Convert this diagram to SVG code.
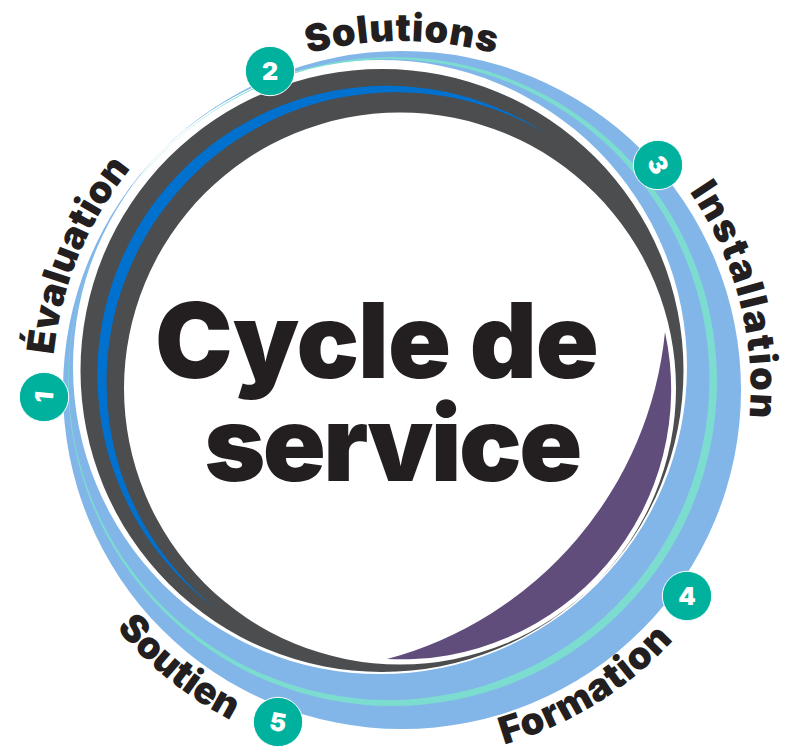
<svg xmlns="http://www.w3.org/2000/svg" xmlns:xlink="http://www.w3.org/1999/xlink" width="786" height="752" viewBox="0 0 786 752">
<style>
.lbl{font-family:"Inter","Liberation Sans",sans-serif;font-weight:900;font-size:38px;fill:#231f20;text-anchor:middle;letter-spacing:.8px}
.ttl{font-family:"Inter","Liberation Sans",sans-serif;font-weight:900;font-size:104px;fill:#231f20;text-anchor:middle}
.dot{fill:#00b19d;stroke:#fff;stroke-width:1}
.num{font-family:"Inter","Liberation Sans",sans-serif;font-weight:900;font-size:25px;fill:#fff;text-anchor:middle}
</style>
<defs>
<path id="pE" d="M68.2 495.2A350 350 0 0 1 240.4 79.5"/>
<path id="pS" d="M177.7 122.7A349 349 0 0 1 626.3 122.7"/>
<path id="pI" d="M603.9 105A348 348 0 0 1 717.4 537.1"/>
<path id="pF" d="M349.1 755.2A369 369 0 0 0 752.4 505.6"/>
<path id="pO" d="M38.1 467.3A372 372 0 0 0 415 761.8"/>
</defs>
<rect width="786" height="752" fill="#fff"/>
<g id="rings">
<path fill="#82b6e9" fill-rule="evenodd" d="M63 390a339 339 0 1 0 678 0a339 339 0 1 0-678 0ZM73 367a307 307 0 1 0 614 0a307 307 0 1 0-614 0Z"/>
<path fill="#7cdccf" fill-rule="evenodd" d="M68 381.5a324.5 324.5 0 1 0 649 0a324.5 324.5 0 1 0-649 0ZM68.6 379.5a320.4 320.4 0 1 0 640.8 0a320.4 320.4 0 1 0-640.8 0Z"/>
<path fill="#4b4d4f" fill-rule="evenodd" d="M80.5 370.5a301.5 301.5 0 1 0 603 0a301.5 301.5 0 1 0-603 0ZM124 388.5a276 276 0 1 0 552 0a276 276 0 1 0-552 0Z"/>
<path fill="#0071ce" d="M548 135A289.3 289.3 0 0 0 215 608A289.8 289.8 0 0 1 548 135Z"/>
<path fill="#604d7b" d="M665 332A270 270 0 0 1 387 659A377 377 0 0 0 665 332Z"/>
</g>
<g id="title">
<text class="ttl" x="376.5" y="378" style="letter-spacing:-1px">Cycle de</text>
<text class="ttl" x="392" y="481" style="letter-spacing:-2.5px">service</text>
</g>
<g id="node-1">
<text class="lbl" style="letter-spacing:.2px"><textPath href="#pE" startOffset="50%">Évaluation</textPath></text>
<circle class="dot" cx="44" cy="397" r="24.7"/>
<text class="num" transform="translate(44 397) rotate(-85)" y="9">1</text>
</g>
<g id="node-2">
<text class="lbl"><textPath href="#pS" startOffset="50%">Solutions</textPath></text>
<circle class="dot" cx="270" cy="71" r="24.7"/>
<text class="num" transform="translate(270 71)" y="9">2</text>
</g>
<g id="node-3">
<text class="lbl" style="letter-spacing:2px"><textPath href="#pI" startOffset="50%">Installation</textPath></text>
<circle class="dot" cx="658" cy="165" r="24.7"/>
<text class="num" transform="translate(658 165) rotate(62)" y="9">3</text>
</g>
<g id="node-4">
<text class="lbl"><textPath href="#pF" startOffset="50%">Formation</textPath></text>
<circle class="dot" cx="687" cy="596" r="24.7"/>
<text class="num" transform="translate(687 596)" y="9">4</text>
</g>
<g id="node-5">
<text class="lbl" style="letter-spacing:0"><textPath href="#pO" startOffset="49%">Soutien</textPath></text>
<circle class="dot" cx="278" cy="722" r="24.7"/>
<text class="num" transform="translate(278 722) rotate(10)" y="9">5</text>
</g>
<g id="connectors"/>
</svg>
